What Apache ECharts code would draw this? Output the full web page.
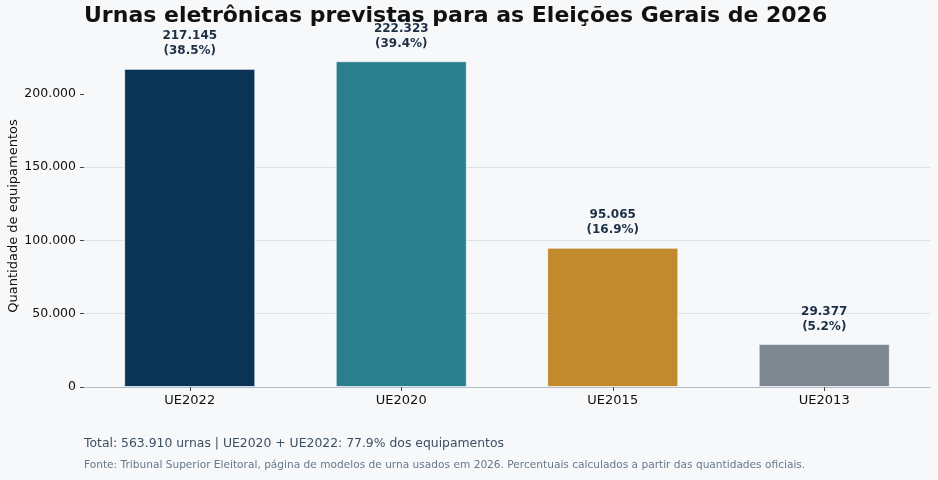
<!DOCTYPE html>
<html>
<head>
<meta charset="utf-8">
<script src="https://cdn.jsdelivr.net/npm/echarts@6/dist/echarts.min.js"></script>
<style>
  html, body { margin: 0; padding: 0; background: #f7f8fa; }
  #chart { width: 938px; height: 480px; }
</style>
</head>
<body>
<div id="chart"></div>
<script>
// modelos de urna e quantidades
var modelos = ['UE2022', 'UE2020', 'UE2015', 'UE2013'];
var quantidades = [217145, 222323, 95065, 29377];
var cores = ['#0b3356', '#2a7f8f', '#c18a2c', '#7d8790'];
var yTicks = [0, 50000, 100000, 150000, 200000];

function fmt(n) {
    return String(n).replace(/\B(?=(\d{3})+(?!\d))/g, '.');
}

var total = quantidades.reduce(function (a, b) { return a + b; }, 0);

var myChart = echarts.init(document.getElementById('chart'));

var option = {
    backgroundColor: '#f7f8fa',
    animation: false,
    textStyle: { fontFamily: 'DejaVu Sans' },
    title: {
        text: 'Urnas eletrônicas previstas para as Eleições Gerais de 2026',
        left: 84,
        top: 5,
        padding: 0,
        textStyle: { fontSize: 22, fontWeight: 'bold', color: '#111111', fontFamily: 'DejaVu Sans' }
    },
    grid: {
        left: 84,
        right: 8,
        top: 45,
        bottom: 93,
        containLabel: false,
        outerBoundsMode: 'none'
    },
    xAxis: {
        type: 'category',
        data: modelos,
        axisLine: { show: true, lineStyle: { color: '#b0bac5', width: 1 } },
        axisTick: { show: true, alignWithLabel: true, length: 4, lineStyle: { color: '#444' } },
        axisLabel: { fontSize: 13, color: '#111', margin: 7 }
    },
    yAxis: {
        type: 'value',
        min: 0,
        max: 233440,
        name: 'Quantidade de equipamentos',
        nameLocation: 'middle',
        nameGap: 64,
        nameMoveOverlap: false,
        nameTextStyle: { fontSize: 13, color: '#111' },
        axisLine: { show: false },
        axisTick: { show: true, length: 4, customValues: yTicks, lineStyle: { color: '#444' } },
        axisLabel: {
            fontSize: 12.5,
            color: '#111',
            margin: 8,
            customValues: yTicks,
            formatter: function (v) {
                return fmt(v);
            }
        },
        splitLine: { show: true, showMaxLine: false, lineStyle: { color: '#dde2e8', width: 1 } }
    },
    series: [{
        type: 'bar',
        barWidth: 131,
        data: quantidades.map(function (v, i) {
            return { value: v, itemStyle: { color: cores[i], borderColor: '#f7f8fa', borderWidth: 0.8 } };
        }),
        label: {
            show: true,
            position: 'top',
            distance: 10,
            fontSize: 12,
            fontWeight: 'bold',
            color: '#1c2f45',
            lineHeight: 15,
            formatter: function (p) {
                return fmt(p.value) + '\n(' + (p.value / total * 100).toFixed(1) + '%)';
            }
        }
    }],
    graphic: [
        {
            type: 'text',
            left: 84,
            top: 438,
            style: {
                text: 'Total: ' + fmt(total) + ' urnas | UE2020 + UE2022: ' +
                    ((quantidades[0] + quantidades[1]) / total * 100).toFixed(1) + '% dos equipamentos',
                fontSize: 12.4,
                fill: '#3d4f63',
                fontFamily: 'DejaVu Sans'
            }
        },
        {
            type: 'text',
            left: 84,
            top: 460,
            style: {
                text: 'Fonte: Tribunal Superior Eleitoral, página de modelos de urna usados em 2026. Percentuais calculados a partir das quantidades oficiais.',
                fontSize: 10.6,
                fill: '#66788c',
                fontFamily: 'DejaVu Sans'
            }
        }
    ]
};

myChart.setOption(option);
</script>
</body>
</html>
